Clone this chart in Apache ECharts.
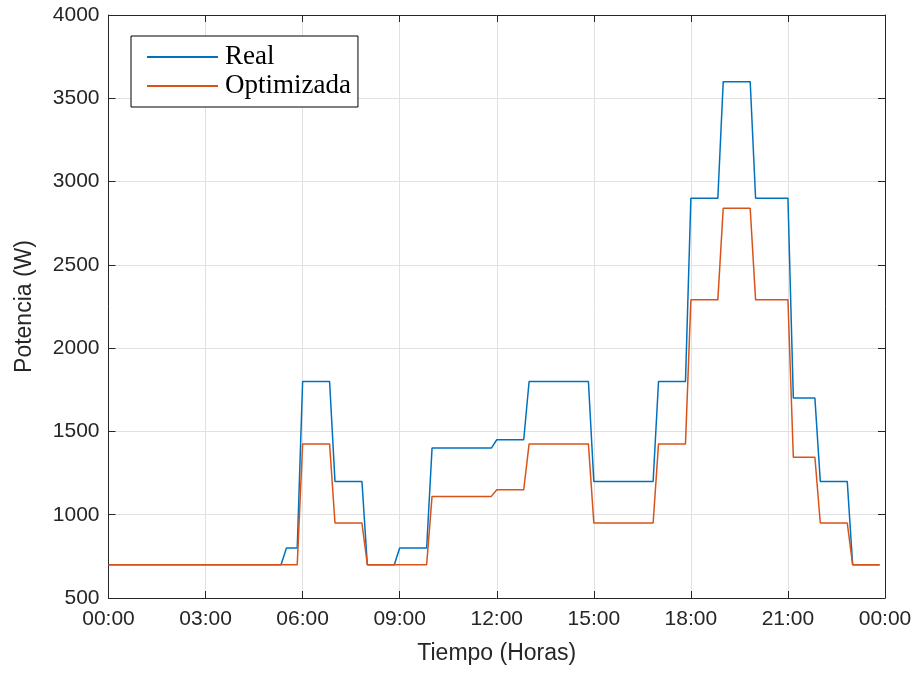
<!DOCTYPE html>
<html>
<head>
<meta charset="utf-8">
<title>Potencia real vs optimizada</title>
<script src="https://cdn.jsdelivr.net/npm/echarts@6/dist/echarts.min.js"></script>
<style>
  html, body { margin: 0; padding: 0; background: #fff; }
  #chart { width: 917px; height: 673px; }
</style>
</head>
<body>
<div id="chart"></div>
<script>
// Breakpoints of each load profile (time of day, power in W)
const realTimes = ['00:00','05:20','05:30','05:50','06:00','06:50','07:00','07:50','08:00','08:50','09:00','09:50','10:00','11:50','12:00','12:50','13:00','14:50','15:00','16:50','17:00','17:50','18:00','18:50','19:00','19:50','20:00','21:00','21:10','21:50','22:00','22:50','23:00','23:50'];
const realValues = [700,700,800,800,1800,1800,1200,1200,700,700,800,800,1400,1400,1450,1450,1800,1800,1200,1200,1800,1800,2900,2900,3600,3600,2900,2900,1700,1700,1200,1200,700,700];

const optTimes = ['00:00','05:50','06:00','06:50','07:00','07:50','08:00','09:50','10:00','11:50','12:00','12:50','13:00','14:50','15:00','16:50','17:00','17:50','18:00','18:50','19:00','19:50','20:00','21:00','21:10','21:50','22:00','22:50','23:00','23:50'];
const optValues = [700,700,1425,1425,950,950,700,700,1110,1110,1150,1150,1425,1425,950,950,1425,1425,2290,2290,2840,2840,2290,2290,1345,1345,950,950,700,700];

const seriesNames = ['Real', 'Optimizada'];

function toHours(t) {
  const [h, m] = t.split(':').map(Number);
  return h + m / 60;
}
function pairs(times, values) {
  return times.map((t, i) => [toHours(t), values[i]]);
}
function hourLabel(v) {
  const h = Math.round(v) % 24;
  return (h < 10 ? '0' : '') + h + ':00';
}

const ink = '#262626';
const tickFont = { fontFamily: 'Liberation Sans, Arial, sans-serif', fontSize: 21, color: ink };

const chart = echarts.init(document.getElementById('chart'), null, { renderer: 'canvas' });

const frameAxis = {
  axisLine: { show: true, onZero: false, lineStyle: { color: ink, width: 1 } },
  axisTick: { show: true, inside: true, length: 7, lineStyle: { color: ink, width: 1 } },
  axisLabel: { show: false },
  splitLine: { show: false }
};

chart.setOption({
  animation: false,
  backgroundColor: '#fff',
  color: ['#0072BD', '#D95319'],
  grid: { left: 108.5, right: 32, top: 15, bottom: 75, containLabel: false },
  legend: {
    data: seriesNames,
    orient: 'vertical',
    left: 131,
    top: 36,
    padding: [7, 7, 7, 16],
    itemWidth: 71,
    itemHeight: 2,
    itemGap: 1,
    icon: 'rect',
    backgroundColor: '#fff',
    borderColor: '#000',
    borderWidth: 1,
    borderRadius: 0,
    textStyle: { fontFamily: 'Liberation Serif, Times New Roman, serif', fontSize: 27, color: '#000', lineHeight: 28, padding: [0, 0, 0, 2] }
  },
  xAxis: [
    {
      type: 'value', min: 0, max: 24, interval: 3,
      position: 'bottom',
      name: 'Tiempo (Horas)', nameLocation: 'middle', nameGap: 44,
      nameTextStyle: { fontFamily: 'Liberation Sans, Arial, sans-serif', fontSize: 23, color: ink },
      axisLine: { show: true, onZero: false, lineStyle: { color: ink, width: 1 } },
      axisTick: { show: true, inside: true, length: 7, lineStyle: { color: ink, width: 1 } },
      axisLabel: Object.assign({ margin: 11, formatter: hourLabel, showMaxLabel: true, showMinLabel: true }, tickFont),
      splitLine: { show: true, lineStyle: { color: '#e1e1e1', width: 1 } }
    },
    Object.assign({ type: 'value', min: 0, max: 24, interval: 3, position: 'top' }, frameAxis)
  ],
  yAxis: [
    {
      type: 'value', min: 500, max: 4000, interval: 500,
      position: 'left',
      name: 'Potencia (W)', nameLocation: 'middle', nameGap: 72,
      nameTextStyle: { fontFamily: 'Liberation Sans, Arial, sans-serif', fontSize: 23, color: ink },
      axisLine: { show: true, onZero: false, lineStyle: { color: ink, width: 1 } },
      axisTick: { show: true, inside: true, length: 7, lineStyle: { color: ink, width: 1 } },
      axisLabel: Object.assign({ margin: 9, formatter: v => String(v) }, tickFont),
      splitLine: { show: true, lineStyle: { color: '#e1e1e1', width: 1 } }
    },
    Object.assign({ type: 'value', min: 500, max: 4000, interval: 500, position: 'right' }, frameAxis)
  ],
  series: [
    {
      name: seriesNames[0], type: 'line', xAxisIndex: 0, yAxisIndex: 0,
      data: pairs(realTimes, realValues),
      showSymbol: false, symbol: 'none',
      lineStyle: { width: 1.5 }
    },
    {
      name: seriesNames[1], type: 'line', xAxisIndex: 0, yAxisIndex: 0,
      data: pairs(optTimes, optValues),
      showSymbol: false, symbol: 'none',
      lineStyle: { width: 1.5 }
    }
  ]
});
</script>
</body>
</html>
